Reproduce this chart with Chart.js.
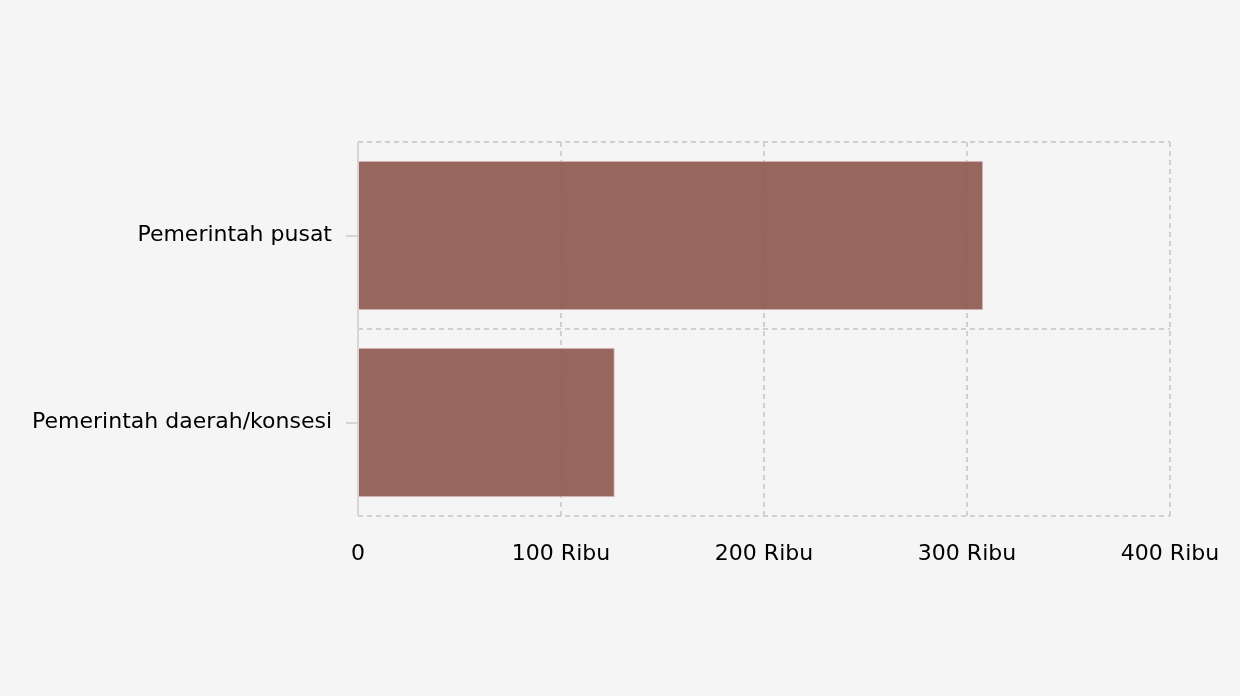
<!DOCTYPE html>
<html>
<head>
<meta charset="utf-8">
<script src="https://cdn.jsdelivr.net/npm/chart.js@4"></script>
<style>
  html, body { margin: 0; padding: 0; background: #f5f5f5; }
  canvas { display: block; }
</style>
</head>
<body>
<canvas id="myChart" width="1240" height="696"></canvas>
<script>
const categories = ["Pemerintah pusat", "Pemerintah daerah/konsesi"];
const values = [308000, 126500];
const xTicks = [0, 100000, 200000, 300000, 400000];

// solid left axis line + short tick marks at the middle of each category
const yAxisMarks = {
  id: "yAxisMarks",
  afterDraw(chart) {
    const y = chart.scales.y;
    const ctx = chart.ctx;
    ctx.save();
    ctx.strokeStyle = "#d6d6d6";
    ctx.lineWidth = 2;
    ctx.beginPath();
    ctx.moveTo(y.right, y.top);
    ctx.lineTo(y.right, y.bottom);
    ctx.stroke();
    for (let i = 0; i < categories.length; i++) {
      const py = Math.round(y.getPixelForTick(i));
      ctx.beginPath();
      ctx.moveTo(y.right - 12, py);
      ctx.lineTo(y.right, py);
      ctx.stroke();
    }
    ctx.restore();
  }
};

new Chart("myChart", {
  type: "bar",
  data: {
    labels: categories,
    datasets: [{
      data: values,
      backgroundColor: "rgba(141,87,79,0.9)",
      borderColor: "rgba(225,195,195,1)",
      borderWidth: 1,
      barPercentage: 0.8,
      categoryPercentage: 1
    }]
  },
  plugins: [yAxisMarks],
  options: {
    indexAxis: "y",
    responsive: false,
    animation: false,
    layout: { padding: { top: 142, right: 70, bottom: 0, left: 0 } },
    plugins: { legend: { display: false }, tooltip: { enabled: false } },
    scales: {
      x: {
        min: 0,
        max: 400000,
        afterBuildTicks(scale) { scale.ticks = xTicks.map(v => ({ value: v })); },
        afterFit(scale) {
          scale.height = 180;
          scale.paddingLeft = 0;
          scale.paddingRight = 0;
        },
        border: { display: false, dash: [5, 4] },
        grid: { color: "#d0d0d0", lineWidth: 2, drawTicks: false },
        ticks: {
          padding: 25,
          color: "#000",
          font: { family: "DejaVu Sans", size: 22 },
          maxRotation: 0,
          callback: v => v === 0 ? "0" : (v / 1000) + " Ribu"
        }
      },
      y: {
        afterFit(scale) { scale.width = 358; },
        border: { display: false, dash: [5, 4] },
        grid: { color: "#d0d0d0", lineWidth: 2, drawTicks: false, offset: true },
        ticks: {
          padding: 26,
          color: "#000",
          font: { family: "DejaVu Sans", size: 22 }
        }
      }
    }
  }
});
</script>
</body>
</html>
